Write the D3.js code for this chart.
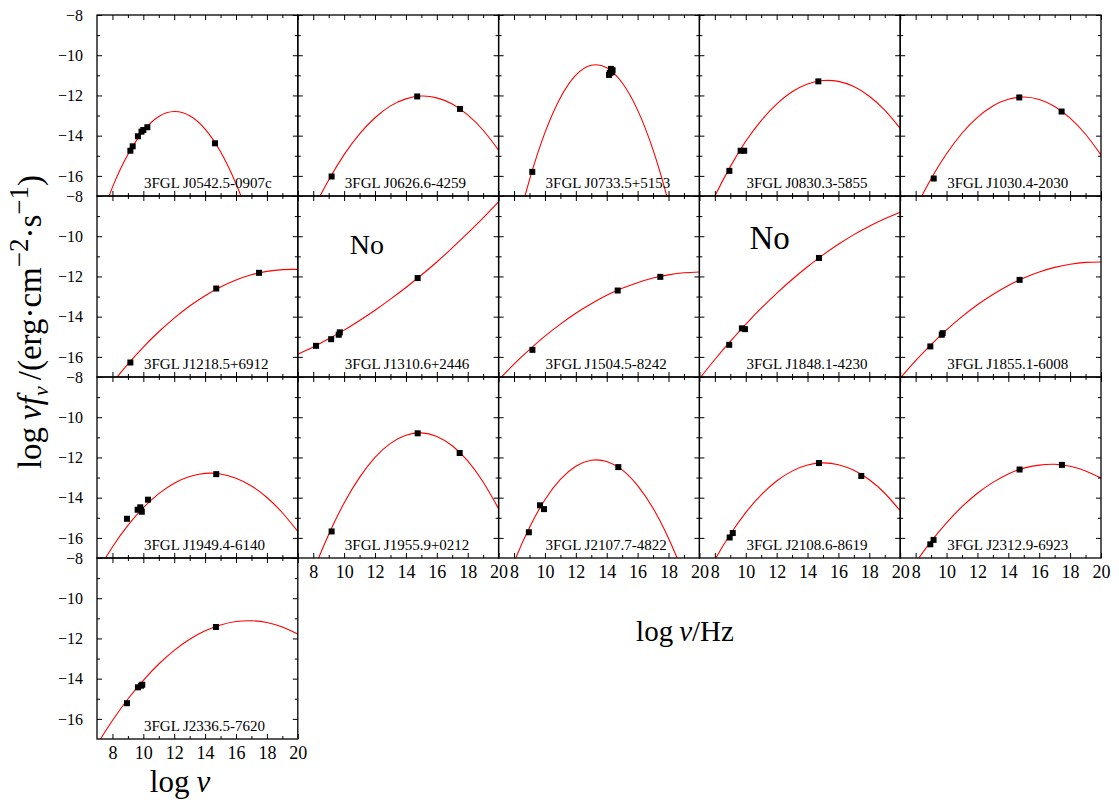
<!DOCTYPE html>
<html><head><meta charset="utf-8">
<script src="https://cdn.jsdelivr.net/npm/d3@7"></script>
<style>
body{margin:0;background:#fff}
svg{display:block}
svg text{font-family:"Liberation Serif","Times New Roman",serif !important;fill:#000}
</style>
</head><body>
<svg id="c" width="1119" height="804"></svg>
<script>
// ---------------- data ----------------
const sources = ["3FGL J0542.5-0907c","3FGL J0626.6-4259","3FGL J0733.5+5153","3FGL J0830.3-5855","3FGL J1030.4-2030",
  "3FGL J1218.5+6912","3FGL J1310.6+2446","3FGL J1504.5-8242","3FGL J1848.1-4230","3FGL J1855.1-6008",
  "3FGL J1949.4-6140","3FGL J1955.9+0212","3FGL J2107.7-4822","3FGL J2108.6-8619","3FGL J2312.9-6923",
  "3FGL J2336.5-7620"];
const noSources = ["3FGL J1310.6+2446","3FGL J1848.1-4230"];
const curveX = [7,8,9,10,11,12,13,14,15,16,17,18,19,20];
const curveY = [
  [-18.67,-16.57,-14.94,-13.77,-13.05,-12.8,-13.01,-13.67,-14.8,-16.39,-18.44,-20.94,-23.91,-27.34],
  [-19.38,-17.68,-16.2,-14.94,-13.91,-13.11,-12.52,-12.17,-12.03,-12.12,-12.43,-12.97,-13.73,-14.72],
  [-22.77,-19.18,-16.2,-13.85,-12.11,-10.99,-10.5,-10.62,-11.37,-12.73,-14.71,-17.32,-20.54,-24.39],
  [-18.69,-17.01,-15.54,-14.28,-13.25,-12.43,-11.82,-11.43,-11.26,-11.30,-11.56,-12.04,-12.73,-13.64],
  [-19.32,-17.62,-16.14,-14.9,-13.88,-13.09,-12.52,-12.19,-12.08,-12.2,-12.55,-13.13,-13.93,-14.96],
  [-18.31,-17.29,-16.36,-15.51,-14.75,-14.07,-13.47,-12.96,-12.53,-12.18,-11.92,-11.75,-11.66,-11.65],
  [-15.87,-15.51,-15.10,-14.67,-14.19,-13.68,-13.13,-12.55,-11.93,-11.28,-10.58,-9.85,-9.09,-8.29],
  [-17.15,-16.36,-15.64,-14.97,-14.37,-13.83,-13.36,-12.94,-12.59,-12.31,-12.08,-11.92,-11.82,-11.78],
  [-17.09,-16.13,-15.23,-14.38,-13.58,-12.84,-12.15,-11.52,-10.93,-10.40,-9.92,-9.50,-9.13,-8.81],
  [-17.06,-16.19,-15.39,-14.66,-14.0,-13.41,-12.9,-12.45,-12.08,-11.78,-11.55,-11.39,-11.3,-11.28],
  [-17.7,-16.45,-15.38,-14.5,-13.8,-13.28,-12.95,-12.79,-12.82,-13.03,-13.42,-13.99,-14.75,-15.68],
  [-19.83,-17.68,-15.83,-14.26,-12.99,-12.0,-11.3,-10.9,-10.78,-10.96,-11.42,-12.17,-13.22,-14.55],
  [-19.29,-17.21,-15.48,-14.1,-13.09,-12.44,-12.14,-12.2,-12.62,-13.4,-14.53,-16.02,-17.87,-20.08],
  [-18.56,-17.09,-15.82,-14.74,-13.86,-13.17,-12.68,-12.38,-12.27,-12.36,-12.64,-13.11,-13.78,-14.65],
  [-18.41,-17.23,-16.17,-15.25,-14.45,-13.78,-13.24,-12.82,-12.53,-12.38,-12.34,-12.44,-12.67,-13.02],
  [-17.27,-16.08,-15.01,-14.08,-13.27,-12.59,-12.04,-11.62,-11.33,-11.16,-11.12,-11.21,-11.43,-11.78]
];
const pointsX = [
  [9.16,9.31,9.65,9.88,10.0,10.26,14.64],
  [9.19,14.73,17.5],
  [9.18,14.15,14.2,14.28,14.38,14.33],
  [8.94,9.67,9.9,14.7],
  [9.17,14.71,17.45],
  [9.16,14.72,17.49],
  [8.18,9.16,9.65,9.72,14.76],
  [9.19,14.71,17.47],
  [8.93,9.75,9.95,14.74],
  [8.95,9.69,9.75,14.73],
  [8.94,9.63,9.8,9.9,9.85,10.3,14.72],
  [9.19,14.76,17.48],
  [8.96,9.68,9.94,14.75],
  [8.96,9.16,14.74,17.48],
  [8.95,9.16,14.73,17.47],
  [8.94,9.65,9.85,9.93,14.7]
];
const pointsY = [
  [-14.75,-14.53,-14.03,-13.8,-13.72,-13.58,-14.38],
  [-16.03,-12.05,-12.67],
  [-15.8,-10.98,-10.88,-10.68,-10.75,-10.85],
  [-15.75,-14.75,-14.75,-11.3],
  [-16.13,-12.1,-12.8],
  [-16.28,-12.6,-11.82],
  [-15.45,-15.12,-14.9,-14.78,-12.08],
  [-15.65,-12.7,-12.02],
  [-15.4,-14.58,-14.62,-11.08],
  [-15.48,-14.9,-14.82,-12.17],
  [-15.05,-14.6,-14.48,-14.7,-14.62,-14.1,-12.83],
  [-15.68,-10.8,-11.78],
  [-15.72,-14.38,-14.57,-12.48],
  [-15.98,-15.76,-12.28,-12.92],
  [-16.32,-16.1,-12.6,-12.37],
  [-15.22,-14.43,-14.35,-14.3,-11.43]
];
const xMajor = [8,10,12,14,16,18,20];
const xMinor = [9,11,13,15,17,19];
const yMajor = [-8,-10,-12,-14,-16];
const yMinor = [-9,-11,-13,-15];
const xDomain = [7,20];
const yDomain = [-17,-8];

// ---------------- drawing ----------------
const SERIF = '"Liberation Serif","Times New Roman",serif';
const svg = d3.select("#c");
const L0 = 97, PW = 200.8, T0 = 15, PH = 181;
const fmt = d => d < 0 ? "\u2212" + Math.abs(d) : String(d);
const noStyle = {6:{dx:52,dy:58,fs:28}, 8:{dx:50,dy:53,fs:33}};

sources.forEach((name,i) => {
  const r = Math.floor(i/5), c = i % 5;
  const x0 = L0 + c*PW, y0 = T0 + r*PH;
  const x = d3.scaleLinear().domain(xDomain).range([x0, x0+PW]);
  const y = d3.scaleLinear().domain(yDomain).range([y0+PH, y0]);
  const g = svg.append("g");
  const cid = "clip" + i;
  svg.append("clipPath").attr("id", cid).append("rect")
     .attr("x", x0).attr("y", y0).attr("width", PW).attr("height", PH);

  g.append("path")
    .datum(curveX.map((v,k) => [v, curveY[i][k]]))
    .attr("clip-path", `url(#${cid})`)
    .attr("fill","none").attr("stroke","#ff0000").attr("stroke-width",1.1)
    .attr("d", d3.line().x(d => x(d[0])).y(d => y(d[1])).curve(d3.curveNatural));

  g.append("g").attr("clip-path", `url(#${cid})`).selectAll("rect")
    .data(pointsX[i].map((v,k) => [v, pointsY[i][k]]))
    .join("rect")
    .attr("x", d => x(d[0]) - 3).attr("y", d => y(d[1]) - 3)
    .attr("width", 6).attr("height", 6).attr("fill", "#000");

  const showX = (r === 3 && c === 0) || (r === 2 && c > 0);
  const showY = (c === 0);
  const axB = d3.axisBottom(x).tickValues(xMajor).tickSize(-5).tickPadding(7)
                .tickFormat(showX ? fmt : () => "");
  const axBm = d3.axisBottom(x).tickValues(xMinor).tickSize(-3).tickFormat(() => "");
  const axT = d3.axisTop(x).tickValues(xMajor).tickSize(-5).tickFormat(() => "");
  const axTm = d3.axisTop(x).tickValues(xMinor).tickSize(-3).tickFormat(() => "");
  const axL = d3.axisLeft(y).tickValues(yMajor).tickSize(-5).tickPadding(14)
                .tickFormat(showY ? fmt : () => "");
  const axLm = d3.axisLeft(y).tickValues(yMinor).tickSize(-3).tickFormat(() => "");
  const axR = d3.axisRight(y).tickValues(yMajor).tickSize(-5).tickFormat(() => "");
  const axRm = d3.axisRight(y).tickValues(yMinor).tickSize(-3).tickFormat(() => "");

  const put = (ax, tx, ty, fs) => {
    const a = g.append("g").attr("transform", `translate(${tx},${ty})`).call(ax);
    a.attr("font-family", null).attr("font-size", null);
    a.select(".domain").remove();
    a.selectAll("line").attr("stroke","#000").attr("stroke-width",1);
    a.selectAll("text").style("font-family", SERIF).style("font-size", (fs||15) + "px").attr("fill","#000");
    return a;
  };
  put(axB, 0, y0+PH, 18);
  put(axBm, 0, y0+PH);
  put(axT, 0, y0); put(axTm, 0, y0);
  put(axL, x0, 0, 16);
  put(axLm, x0, 0);
  put(axR, x0+PW, 0); put(axRm, x0+PW, 0);

  g.append("rect").attr("x", x0).attr("y", y0).attr("width", PW).attr("height", PH)
    .attr("fill","none").attr("stroke","#000").attr("stroke-width",1.3);

  g.append("text").attr("x", x0+47).attr("y", y0+PH-8)
    .style("font-size", "15px").text(name);

  if (noSources.includes(name)) {
    const s = noStyle[i] || {dx:50,dy:56,fs:30};
    g.append("text").attr("x", x0+s.dx).attr("y", y0+s.dy)
      .style("font-size", s.fs + "px").text("No");
  }
});

// axis titles
const yt = svg.append("text").attr("transform","translate(41,322) rotate(-90)")
  .attr("text-anchor","middle").style("font-size","33px");
yt.append("tspan").text("log");
yt.append("tspan").attr("dx",7).attr("font-style","italic").text("ν");
yt.append("tspan").attr("font-style","italic").text("f");
yt.append("tspan").attr("font-style","italic").style("font-size","22px").attr("dy",7).text("ν");
yt.append("tspan").attr("dy",-7).attr("dx",6).text("/(erg·cm");
yt.append("tspan").style("font-size","27px").attr("dy",-13).text("\u22122");
yt.append("tspan").attr("dy",13).text("·s");
yt.append("tspan").style("font-size","27px").attr("dy",-13).text("\u22121");
yt.append("tspan").attr("dy",13).text(")");

const xt = svg.append("text").attr("x",685).attr("y",641).attr("text-anchor","middle").style("font-size","29px");
xt.append("tspan").text("log");
xt.append("tspan").attr("dx",6).attr("font-style","italic").text("ν");
xt.append("tspan").text("/Hz");

const xt2 = svg.append("text").attr("x",180).attr("y",792).attr("text-anchor","middle").style("font-size","31px");
xt2.append("tspan").text("log");
xt2.append("tspan").attr("dx",7).attr("font-style","italic").text("ν");
</script>
</body></html>
